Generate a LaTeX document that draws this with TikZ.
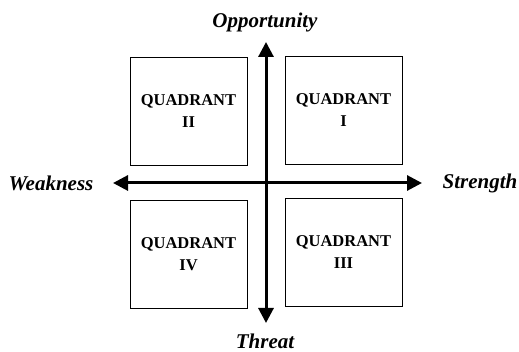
\documentclass[tikz,border=0pt]{standalone}
\usepackage{fontspec}
\setmainfont{Liberation Serif}
\usetikzlibrary{arrows.meta}
\begin{document}
\begin{tikzpicture}[x=1pt,y=-1pt,
  quad/.style={draw,line width=0.9pt,minimum width=117pt,minimum height=108pt,inner sep=0pt,
    align=center,font=\fontsize{16.5}{22}\selectfont\bfseries},
  axislabel/.style={font=\fontsize{21}{24}\selectfont\bfseries\itshape,inner sep=0pt},
  axis/.style={line width=3pt,{Triangle[length=15pt,width=15pt]}-{Triangle[length=15pt,width=15pt]}}]
\useasboundingbox (0,0) rectangle (519,352);
\node[quad] (q2) at (188.5,111) {QUADRANT\\II};
\node[quad] (q1) at (343.5,110) {QUADRANT\\I};
\node[quad] (q4) at (188.5,254.5) {QUADRANT\\IV};
\node[quad] (q3) at (343.5,252.5) {QUADRANT\\III};
\coordinate (top) at (266,42);
\coordinate (bot) at (266,323);
\coordinate (left) at (113,183);
\coordinate (right) at (422,183);
\draw[axis] (left) -- (right);
\draw[axis] (bot) -- (top);
\node[axislabel] (opp) at (265,22) {Opportunity};
\node[axislabel] (thr) at (265,341) {Threat};
\node[axislabel] (wea) at (51,183) {Weakness};
\node[axislabel] (str) at (480,183) {Strength};
\end{tikzpicture}
\end{document}
